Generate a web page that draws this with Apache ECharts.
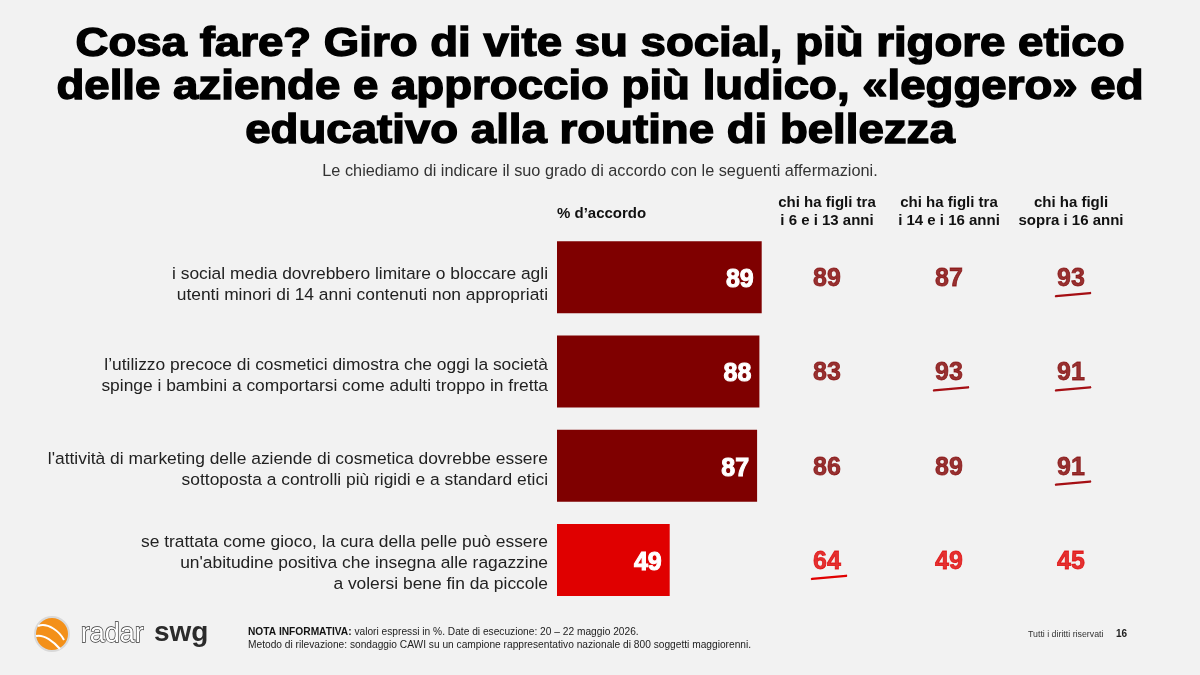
<!DOCTYPE html>
<html><head><meta charset="utf-8">
<script src="https://cdn.jsdelivr.net/npm/echarts@6/dist/echarts.min.js"></script>
<style>html,body{margin:0;padding:0;background:#f2f2f2}#c{width:1200px;height:675px}</style>
</head><body><div id="c"></div>
<script>
const categories = [
  "i social media dovrebbero limitare o bloccare agli\nutenti minori di 14 anni contenuti non appropriati",
  "l’utilizzo precoce di cosmetici dimostra che oggi la società\nspinge i bambini a comportarsi come adulti troppo in fretta",
  "l'attività di marketing delle aziende di cosmetica dovrebbe essere\nsottoposta a controlli più rigidi e a standard etici",
  "se trattata come gioco, la cura della pelle può essere\nun'abitudine positiva che insegna alle ragazzine\na volersi bene fin da piccole"
];
const totalValues = [89, 88, 87, 49];
const columnHeaders = ["chi ha figli tra\ni 6 e i 13 anni", "chi ha figli tra\ni 14 e i 16 anni", "chi ha figli\nsopra i 16 anni"];
const col6to13 = [89, 83, 86, 64];
const col14to16 = [87, 93, 89, 49];
const colOver16 = [93, 91, 91, 45];
// highlighted (underlined) cells: [columnIndex, rowIndex]
const highlighted = [[2, 0], [1, 1], [2, 1], [2, 2], [0, 3]];

const DARK = '#7f0000', BRIGHT = '#e00000';
const rowColor = i => (i === 3 ? BRIGHT : DARK);
const rowTextColor = i => (i === 3 ? '#e00000' : '#800000');

const chart = echarts.init(document.getElementById('c'));
const cols = [col6to13, col14to16, colOver16];
const cellData = [];
cols.forEach((arr, ci) => arr.forEach((v, ri) => cellData.push({
  value: [ci, ri, v],
  label: {color: rowTextColor(ri), textBorderColor: rowTextColor(ri)}
})));

const spacerKeys = ['s16', 's8', 's8', 's6'];
const labelFmt = (v, i) => '{' + spacerKeys[i] + '| }\n' + v.split('\n').map(l => '{n|' + l + '}').join('\n');

chart.setOption({
  backgroundColor: '#f2f2f2',
  animation: false,
  title: [
    {text: 'Le chiediamo di indicare il suo grado di accordo con le seguenti affermazioni.', left: 'center', top: 159,
     textStyle: {fontFamily: 'Liberation Sans', fontWeight: 'normal', fontSize: 16.3, color: '#333'}},
    {text: '% d’accordo', left: 557, top: 206, padding: 0,
     textStyle: {fontFamily: 'Liberation Sans', fontWeight: 'bold', fontSize: 15, color: '#111'}}
  ],
  grid: [
    {left: 557, width: 230, top: 230, height: 377},
    {left: 766, width: 366, top: 230, height: 377}
  ],
  xAxis: [
    {gridIndex: 0, type: 'value', min: 0, max: 100, show: false},
    {gridIndex: 1, type: 'category', data: columnHeaders, position: 'top',
     axisLine: {show: false}, axisTick: {show: false}, splitLine: {show: false},
     axisLabel: {interval: 0, margin: 0, fontFamily: 'Liberation Sans', fontWeight: 'bold', fontSize: 15, lineHeight: 18, color: '#111'}}
  ],
  yAxis: [
    {gridIndex: 0, type: 'category', data: categories, inverse: true,
     axisLine: {show: false}, axisTick: {show: false},
     axisLabel: {margin: 9, align: 'right', formatter: labelFmt,
       rich: {
         n: {fontFamily: 'Liberation Sans', fontSize: 17.4, lineHeight: 21, color: '#222', align: 'right'},
         s16: {fontSize: 1, lineHeight: 16},
         s8: {fontSize: 1, lineHeight: 8},
         s6: {fontSize: 1, lineHeight: 6}
       }}},
    {gridIndex: 1, type: 'category', data: categories, inverse: true, show: false}
  ],
  series: [
    {type: 'bar', xAxisIndex: 0, yAxisIndex: 0, barWidth: 72,
     data: totalValues.map((v, i) => ({value: v, itemStyle: {color: rowColor(i)}})),
     label: {show: true, position: 'insideRight', distance: 8, offset: [0, 3], color: '#fff', fontFamily: 'Liberation Sans', fontWeight: 'bold', fontSize: 25,
             textBorderColor: '#fff', textBorderWidth: 1}},
    {type: 'scatter', xAxisIndex: 1, yAxisIndex: 1, symbolSize: 0, data: cellData,
     label: {show: true, position: 'inside', offset: [0, 2], formatter: p => p.value[2], fontFamily: 'Liberation Sans', fontWeight: 'bold', fontSize: 25,
             textBorderWidth: 0.8}},
    {type: 'custom', xAxisIndex: 1, yAxisIndex: 1, data: highlighted,
     renderItem: (params, api) => {
       const p = api.coord([api.value(0), api.value(1)]);
       const c = api.value(1) === 3 ? '#e00000' : '#a50f14';
       return {type: 'line', shape: {x1: p[0] - 15, y1: p[1] + 19, x2: p[0] + 19, y2: p[1] + 16},
               style: {stroke: c, lineWidth: 2.5, lineCap: 'round'}};
     }}
  ],
  graphic: [
    {type: 'text', x: 600, y: 23, scaleX: 1.14, style: {
      text: 'Cosa fare? Giro di vite su social, più rigore etico\ndelle aziende e approccio più ludico, «leggero» ed\neducativo alla routine di bellezza',
      align: 'center', fontFamily: 'Liberation Sans', fontWeight: 'bold', fontSize: 40, lineHeight: 43.5,
      fill: '#000', stroke: '#000', lineWidth: 1.4}},
    {type: 'circle', shape: {cx: 52, cy: 634, r: 17}, style: {fill: '#f39019', stroke: '#d9d9d9', lineWidth: 2}},
    {type: 'bezierCurve', shape: {x1: 38, y1: 626, x2: 64, y2: 640, cpx1: 48, cpy1: 622, cpx2: 60, cpy2: 632}, style: {stroke: '#fff', lineWidth: 2, fill: null}},
    {type: 'bezierCurve', shape: {x1: 36, y1: 636, x2: 60, y2: 649, cpx1: 44, cpy1: 634, cpx2: 54, cpy2: 642}, style: {stroke: '#fff', lineWidth: 2, fill: null}},
    {type: 'text', left: 80, top: 620, style: {text: 'radar', fontFamily: 'Liberation Sans', fontSize: 27, fill: '#fff', stroke: '#333', lineWidth: 1.3}},
    {type: 'text', left: 154, top: 619, style: {text: 'swg', fontFamily: 'Liberation Sans', fontWeight: 'bold', fontSize: 28, fill: '#2b2b2b'}},
    {type: 'text', left: 248, top: 626, style: {
      text: '{b|NOTA INFORMATIVA:} valori espressi in %. Date di esecuzione: 20 – 22 maggio 2026.\nMetodo di rilevazione: sondaggio CAWI su un campione rappresentativo nazionale di 800 soggetti maggiorenni.',
      fontFamily: 'Liberation Sans', fontSize: 10.2, lineHeight: 13, fill: '#222',
      rich: {b: {fontWeight: 'bold', fontFamily: 'Liberation Sans', fontSize: 10.2, fill: '#111'}}}},
    {type: 'text', left: 1028, top: 630, style: {text: 'Tutti i diritti riservati', fontFamily: 'Liberation Sans', fontSize: 8.8, fill: '#333'}},
    {type: 'text', left: 1116, top: 629, style: {text: '16', fontFamily: 'Liberation Sans', fontWeight: 'bold', fontSize: 10, fill: '#222'}}
  ]
});
</script></body></html>
